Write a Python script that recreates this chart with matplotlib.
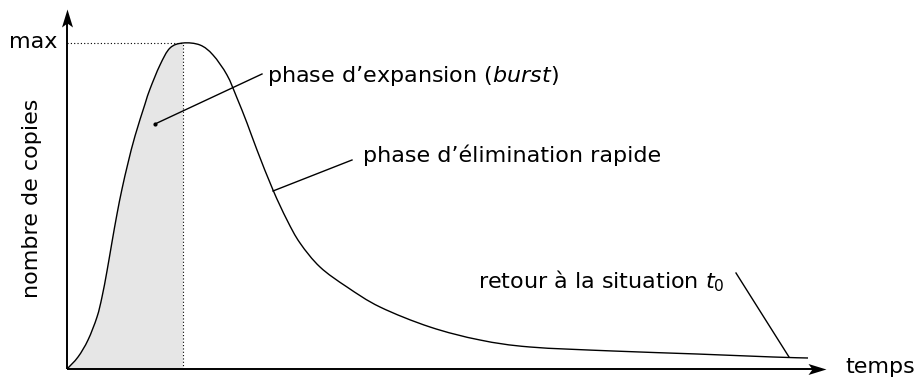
import matplotlib
matplotlib.use("Agg")
import matplotlib.pyplot as plt
from matplotlib.path import Path
from matplotlib.patches import PathPatch
import numpy as np

plt.rcParams['font.family'] = ['DejaVu Sans']
plt.rcParams['mathtext.fontset'] = 'dejavusans'

# data (time, number of copies)
temps = [0, 11, 21, 30, 35, 40, 45, 50, 55, 61, 68, 78, 83, 93, 103, 116,
         133, 146, 160, 170, 180, 190, 206, 220, 233, 253, 280, 313, 363, 413,
         463, 546, 630, 706, 741]
copies = [0, 12, 29, 52, 72, 98, 127, 155, 180, 206, 233, 265, 280, 304, 321, 326,
          324, 314, 294, 271, 246, 219, 179, 149, 126, 102, 82, 62, 42, 29,
          22, 18, 15, 12, 11]
t_peak = 116
y_max = 326

label_max = "max"
label_x = "temps"
label_y = "nombre de copies"
label_burst = "phase d\u2019expansion ($\\mathit{burst}$)"
label_elim = "phase d\u2019\u00e9limination rapide"
label_retour = "retour \u00e0 la situation $t_0$"

fig = plt.figure(figsize=(9.18, 3.8), dpi=100)
ax = fig.add_axes([0, 0, 1, 1])
ax.set_xlim(-67, 851)
ax.set_ylim(-11, 369)
ax.axis('off')

P = np.column_stack([temps, copies]).astype(float)


def smooth_codes(pts):
    """Catmull-Rom curve through the points, as cubic Bezier segments."""
    verts = [pts[0]]
    codes = [Path.MOVETO]
    n = len(pts)
    for i in range(n - 1):
        p0 = pts[i - 1] if i > 0 else pts[i]
        p1 = pts[i]
        p2 = pts[i + 1]
        p3 = pts[i + 2] if i + 2 < n else pts[i + 1]
        verts += [p1 + (p2 - p0) / 6.0, p2 - (p3 - p1) / 6.0, p2]
        codes += [Path.CURVE4] * 3
    return verts, codes


# shaded expansion phase
k = temps.index(t_peak)
fv, fc = smooth_codes(P[:k + 2])
fv, fc = fv[:1 + 3 * k], fc[:1 + 3 * k]
fv = fv + [np.array([t_peak, 0.0]), np.array([0.0, 0.0]), P[0]]
fc = fc + [Path.LINETO, Path.LINETO, Path.CLOSEPOLY]
ax.add_patch(PathPatch(Path(fv, fc), facecolor='#e6e6e6', edgecolor='none', zorder=1))

cv, cc = smooth_codes(P)
ax.add_patch(PathPatch(Path(cv, cc), facecolor='none', edgecolor='black', lw=1.0, zorder=3))

ax.plot([0, t_peak], [y_max, y_max], color='black', lw=0.8, ls=(0, (1, 2)), zorder=2)
ax.plot([t_peak, t_peak], [0, y_max], color='black', lw=0.8, ls=(0, (1, 2)), zorder=2)

# axes with stealth arrow heads
x_tip = 759
y_tip = 360
ax.plot([0, x_tip - 8], [0, 0], color='black', lw=1.4, zorder=4, solid_capstyle='butt')
ax.plot([0, 0], [0, y_tip - 8], color='black', lw=1.4, zorder=4, solid_capstyle='butt')
head_r = Path([(0, 0), (-18, 5.5), (-14, 0), (-18, -5.5), (0, 0)],
              [Path.MOVETO, Path.LINETO, Path.LINETO, Path.LINETO, Path.CLOSEPOLY])
head_u = Path([(0, 0), (-5.5, -18), (0, -14), (5.5, -18), (0, 0)],
              [Path.MOVETO, Path.LINETO, Path.LINETO, Path.LINETO, Path.CLOSEPOLY])
ms = 36 / (100 / 72.0)
ax.plot([x_tip], [0], marker=head_r, ms=ms, color='black', mew=0, zorder=5)
ax.plot([0], [y_tip], marker=head_u, ms=ms, color='black', mew=0, zorder=5)

fs = 16
ax.text(-10, 321, label_max, ha='right', va='baseline', fontsize=fs)
ax.text(778, -4, label_x, ha='left', va='baseline', fontsize=fs)
ax.text(-35, 171, label_y, ha='center', va='center', rotation=90, fontsize=fs)

# leader lines
ax.plot([88, 195], [245, 295], color='black', lw=1.0)
ax.plot([88], [245], 'o', color='black', ms=2)
ax.text(200, 287, label_burst, ha='left', va='baseline', fontsize=fs)

ax.plot([206, 285], [178, 209], color='black', lw=1.0)
ax.text(296, 207, label_elim, ha='left', va='baseline', fontsize=fs)

ax.plot([722, 669], [12, 96], color='black', lw=1.0)
ax.text(411, 81, label_retour, ha='left', va='baseline', fontsize=fs)

fig.savefig('out.png', dpi=100)
